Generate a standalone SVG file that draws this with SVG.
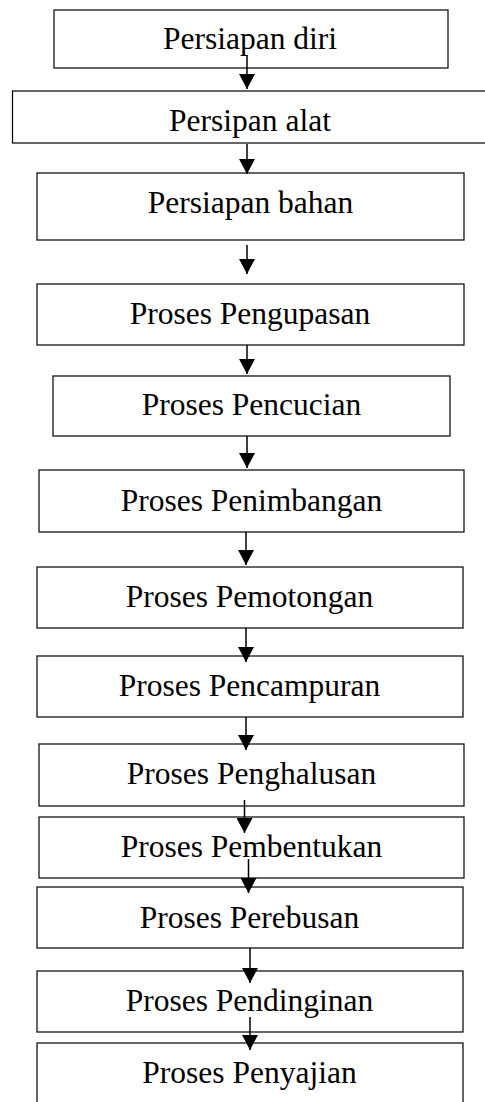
<svg xmlns="http://www.w3.org/2000/svg" width="485" height="1102" viewBox="0 0 485 1102">
<style>
.box{fill:#fff;stroke:#000;stroke-width:1.2}
.lbl{font-family:"Liberation Serif","Times New Roman",serif;font-size:31.5px;fill:#000;text-anchor:middle}
.con{stroke:#000;stroke-width:1.5;fill:none;marker-end:url(#ah)}
</style>
<defs>
<marker id="ah" markerUnits="userSpaceOnUse" markerWidth="16" markerHeight="16" refX="15" refY="8" orient="auto">
<path d="M0,0 L15,8 L0,16 Z" fill="#000"/>
</marker>
</defs>
<g id="n1"><rect class="box" x="54" y="10" width="394" height="58"/><text class="lbl" x="250" y="49">Persiapan diri</text></g>
<g id="n2"><rect class="box" x="12.5" y="91" width="480" height="52"/><text class="lbl" x="250" y="131">Persipan alat</text></g>
<g id="n3"><rect class="box" x="37" y="173" width="427" height="67"/><text class="lbl" x="250.5" y="213">Persiapan bahan</text></g>
<g id="n4"><rect class="box" x="37" y="284" width="427" height="61"/><text class="lbl" x="250" y="324">Proses Pengupasan</text></g>
<g id="n5"><rect class="box" x="53" y="376" width="397" height="60"/><text class="lbl" x="251.5" y="415">Proses Pencucian</text></g>
<g id="n6"><rect class="box" x="39" y="470" width="425" height="62"/><text class="lbl" x="251.5" y="511">Proses Penimbangan</text></g>
<g id="n7"><rect class="box" x="37" y="567" width="426" height="61"/><text class="lbl" x="249.5" y="607">Proses Pemotongan</text></g>
<g id="n8"><rect class="box" x="37" y="656" width="426" height="61"/><text class="lbl" x="249.5" y="696">Proses Pencampuran</text></g>
<g id="n9"><rect class="box" x="39" y="744" width="425" height="62"/><text class="lbl" x="251.5" y="784">Proses Penghalusan</text></g>
<g id="n10"><rect class="box" x="39" y="817" width="425" height="61"/><text class="lbl" x="251.5" y="857">Proses Pembentukan</text></g>
<g id="n11"><rect class="box" x="37" y="887" width="426" height="61"/><text class="lbl" x="249.5" y="928">Proses Perebusan</text></g>
<g id="n12"><rect class="box" x="37" y="971" width="426" height="61"/><text class="lbl" x="249.5" y="1011">Proses Pendinginan</text></g>
<g id="n13"><rect class="box" x="37" y="1043" width="426" height="70"/><text class="lbl" x="249.5" y="1083">Proses Penyajian</text></g>
<g id="connectors">
<line class="con" x1="247" y1="55" x2="247" y2="89"/>
<line class="con" x1="247" y1="144" x2="247" y2="174"/>
<line class="con" x1="247" y1="245" x2="247" y2="274"/>
<line class="con" x1="247" y1="345" x2="247" y2="374"/>
<line class="con" x1="247" y1="436" x2="247" y2="468"/>
<line class="con" x1="246" y1="532" x2="246" y2="565"/>
<line class="con" x1="246" y1="628" x2="246" y2="662"/>
<line class="con" x1="246" y1="717" x2="246" y2="750"/>
<line class="con" x1="244.5" y1="800" x2="244.5" y2="833"/>
<line class="con" x1="248.5" y1="859" x2="248.5" y2="893"/>
<line class="con" x1="250" y1="948" x2="250" y2="983"/>
<line class="con" x1="250" y1="1017" x2="250" y2="1050"/>
</g>
</svg>
